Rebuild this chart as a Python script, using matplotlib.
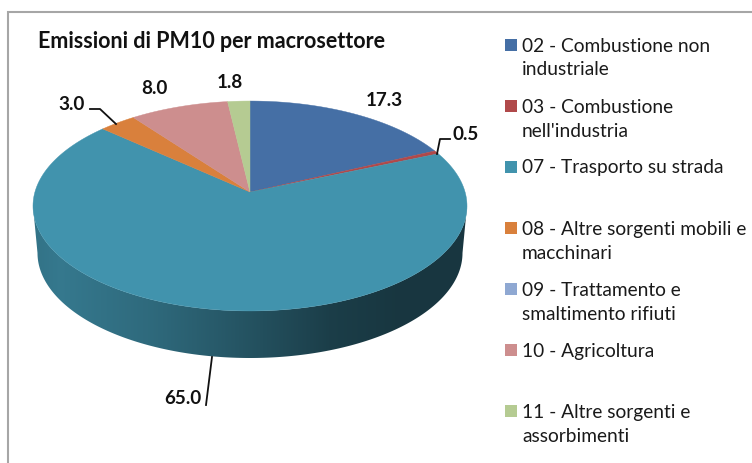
import numpy as np
import matplotlib
matplotlib.use("Agg")
import matplotlib.pyplot as plt
from matplotlib.patches import Polygon, Rectangle
from matplotlib.colors import to_rgb

title = "Emissioni di PM10 per macrosettore"
categories = ["02 - Combustione non\nindustriale", "03 - Combustione\nnell'industria",
              "07 - Trasporto su strada", "08 - Altre sorgenti mobili e\nmacchinari",
              "09 - Trattamento e\nsmaltimento rifiuti", "10 - Agricoltura",
              "11 - Altre sorgenti e\nassorbimenti"]
values = [17.3, 0.5, 65.0, 3.0, 0.0, 8.0, 1.8]
value_labels = ["17.3", "0.5", "65.0", "3.0", "", "8.0", "1.8"]
colors = ["#456fa5", "#b0494a", "#4193ad", "#d9803c", "#8fa8d2", "#cd8e8e", "#b5cb92"]

FONT = "Lato"
W, H = 752, 463
fig = plt.figure(figsize=(W / 100, H / 100), dpi=100)
ax = fig.add_axes([0, 0, 1, 1])
ax.set_xlim(0, W)
ax.set_ylim(H, 0)
ax.axis("off")

# frame
ax.plot([7.5, 7.5, W + 5], [H + 5, 11.5, 11.5], color="#a6a6a6", lw=1.5, solid_joinstyle="miter")

# perspective view of the pie
cx, cy = 250.0, 192.0
c, a, b = 215.07, 103.1, 0.1333


def project(theta):
    x, y = np.sin(theta), np.cos(theta)
    d = 1 + b * y
    return cx + c * x / d, cy - a * y / d


fractions = np.array(values) / np.sum(values)
edges = np.concatenate([[0], np.cumsum(fractions)]) * 2 * np.pi

# side wall
ell_cy = 206.0
depth_cy, depth_rx = 253.0, 212.5
ts = np.linspace(0, np.pi, 300)
top_x = cx + 217 * np.cos(ts)
top_y = ell_cy + 105 * np.sin(ts)
bot_x = cx + depth_rx * np.cos(ts[::-1])
bot_y = depth_cy + 105 * np.sin(ts[::-1])
wall = Polygon(np.column_stack([np.r_[top_x, bot_x], np.r_[top_y, bot_y]]),
               closed=True, fc="none", ec="none")
ax.add_patch(wall)
stops_x = [33, 60, 150, 250, 330, 400, 467]
stops_s = [0.78, 0.82, 0.72, 0.56, 0.42, 0.37, 0.37]
grad_x = np.arange(30, 471)
shade = np.interp(grad_x, stops_x, stops_s)
img = np.outer(shade, to_rgb(colors[2])).reshape(1, -1, 3)
im = ax.imshow(img, extent=(30, 471, 365, 200), aspect="auto", zorder=1, interpolation="bilinear")
im.set_clip_path(wall)
ax.set_xlim(0, W)
ax.set_ylim(H, 0)

# top surface
for i, col in enumerate(colors):
    if values[i] <= 0:
        continue
    th = np.linspace(edges[i], edges[i + 1], 200)
    px, py = project(th)
    ax.add_patch(Polygon(np.column_stack([np.r_[cx, px], np.r_[cy, py]]), closed=True,
                         fc=col, ec=col, lw=0.3, zorder=2))

# leader lines
leaders = [([437, 440, 450], [154, 139, 139]),
           ([90, 100, 116], [109, 109, 124]),
           ([212, 206], [357, 405])]
for lx, ly in leaders:
    ax.plot(lx, ly, color="#111111", lw=1.3, zorder=3)

# value labels
label_pos = [(384, 100), (466, 134), (183, 398), (72, 104), None, (154, 89), (230, 83)]
for txt, pos in zip(value_labels, label_pos):
    if pos:
        ax.text(pos[0], pos[1], txt, ha="center", va="center", family=FONT,
                fontweight="bold", fontsize=13.6, color="#111111", zorder=4)

ax.text(38, 41, title, ha="left", va="center", family=FONT, fontweight="bold",
        fontsize=15.5, color="#111111")

# legend
legend_y = [58, 119.5, 167, 241.5, 302.5, 351, 424.5]
swatch_y = [45, 106, 167, 228, 289, 350, 411]
for name, col, ty, sy in zip(categories, colors, legend_y, swatch_y):
    ax.add_patch(Rectangle((505, sy - 6), 12, 12, fc=col, ec="none"))
    ax.text(522, ty, name, ha="left", va="center", family=FONT, fontsize=13.8,
            color="#1a1a1a", linespacing=1.45)

fig.savefig("out.png", dpi=100)
